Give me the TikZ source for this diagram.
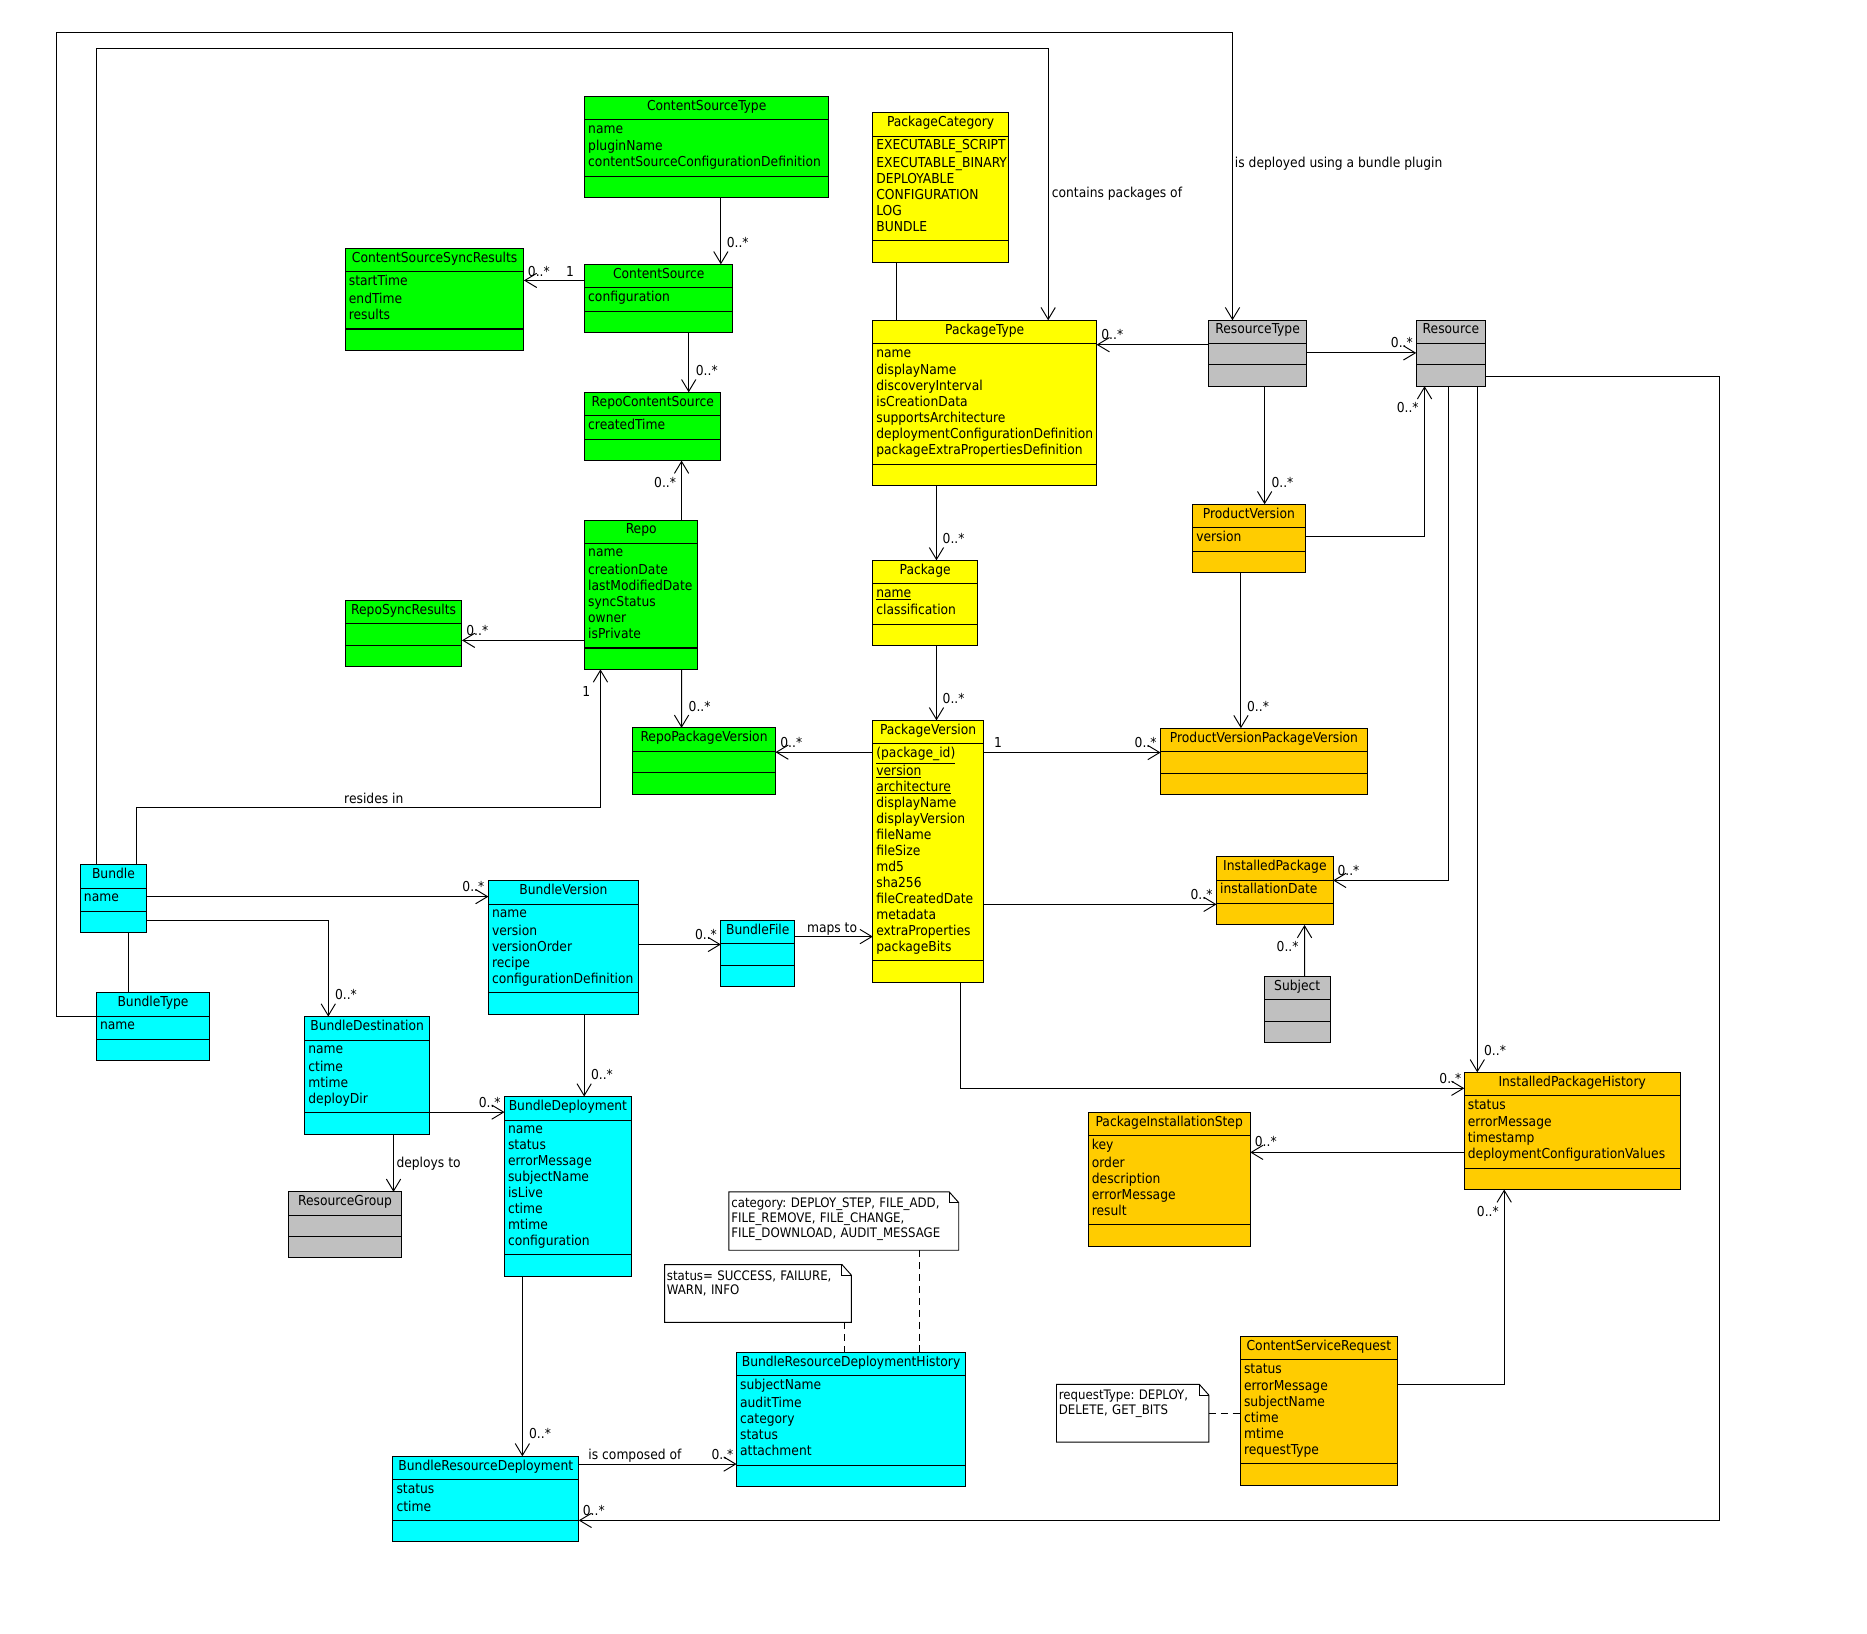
\documentclass[tikz,border=0pt]{standalone}
\usepackage{fontspec}
\setmainfont{DejaVu Sans Condensed}
\usetikzlibrary{shapes.multipart,arrows.meta}
\definecolor{grn}{HTML}{00FF00}
\definecolor{ylw}{HTML}{FFFF00}
\definecolor{org}{HTML}{FFCC00}
\definecolor{cyn}{HTML}{00FFFF}
\definecolor{gry}{HTML}{C0C0C0}
\newcommand{\cf}{\fontsize{11.5}{13.4}\selectfont\hyphenpenalty=10000\exhyphenpenalty=10000}
\newcommand{\nf}{\fontsize{11}{12.5}\selectfont\hyphenpenalty=10000\frenchspacing}
\newcommand{\cstrut}{\rule[-5.1pt]{0pt}{13.4pt}}
\newcommand{\ttl}[1]{\makebox[\hsize]{\cstrut#1\cstrut}}
\newcommand{\atr}[1]{\raggedright\cstrut#1\cstrut}
\newcommand{\emp}{\rule{0pt}{12pt}}
\newcommand{\dogear}[1]{%
  \draw[link] (#1.north west) -- ([xshift=-8]#1.north east) -- ([yshift=-9]#1.north east) -- (#1.south east) -- (#1.south west) -- cycle;
  \draw[link] ([xshift=-8]#1.north east) |- ([yshift=-9]#1.north east);}
\tikzset{cls/.style={rectangle split,rectangle split parts=3,draw,line width=0.85pt,anchor=north west,
    inner xsep=3pt,inner ysep=2.55pt,outer sep=0pt,font=\cf,text width=#1pt},
  assoc/.style={line width=0.8pt,-{Straight Barb[length=10pt,width=12pt]}},
  link/.style={line width=0.8pt},
  dlink/.style={line width=0.8pt,dash pattern=on 6pt off 4pt},
  mult/.style={font=\cf,inner sep=0pt,anchor=base west},
  notebox/.style={anchor=north west,fill=white,inner sep=2pt,outer sep=0pt,font=\nf,align=left,text height=11pt}}
\begin{document}
\begin{tikzpicture}[x=1pt,y=-1pt]
  \useasboundingbox[fill=white] (0,0) rectangle (1568,1372);

  % content sources and repos
  \node[cls=199,fill=grn] (cst) at (491,81) {\ttl{ContentSourceType}\nodepart{two}\atr{name\\pluginName\\contentSourceConfigurationDefinition}\nodepart{three}\emp};
  \node[cls=144,fill=grn] (cssr) at (290,208.5) {\ttl{ContentSourceSyncResults}\nodepart{two}\atr{startTime\\endTime\\results}\nodepart{three}\emp};
  \node[cls=118.5,fill=grn] (cs) at (491,222) {\ttl{ContentSource}\nodepart{two}\atr{configuration}\nodepart{three}\emp};
  \node[cls=108.5,fill=grn] (rcs) at (491,329.5) {\ttl{RepoContentSource}\nodepart{two}\atr{createdTime}\nodepart{three}\emp};
  \node[cls=89,fill=grn] (repo) at (491,437) {\ttl{Repo}\nodepart{two}\atr{name\\creationDate\\lastModifiedDate\\syncStatus\\owner\\isPrivate}\nodepart{three}\emp};
  \node[cls=92,fill=grn] (rsr) at (290,504) {\ttl{RepoSyncResults}\nodepart{two}\emp\nodepart{three}\emp};
  \node[cls=114,fill=grn] (rpv) at (531.3,611.3) {\ttl{RepoPackageVersion}\nodepart{two}\emp\nodepart{three}\emp};

  % packages
  \node[cls=108,fill=ylw] (pc) at (733,94.5) {\ttl{PackageCategory}\nodepart{two}\atr{EXECUTABLE\_SCRIPT\\EXECUTABLE\_BINARY\\DEPLOYABLE\\CONFIGURATION\\LOG\\BUNDLE}\nodepart{three}\emp};
  \node[cls=182,fill=ylw] (pt) at (733,269) {\ttl{PackageType}\nodepart{two}\atr{name\\displayName\\discoveryInterval\\isCreationData\\supportsArchitecture\\deploymentConfigurationDefinition\\packageExtraPropertiesDefinition}\nodepart{three}\emp};
  \node[cls=82,fill=ylw] (pkg) at (733,470.6) {\ttl{Package}\nodepart{two}\atr{\underline{name}\\classification}\nodepart{three}\emp};
  \node[cls=87,fill=ylw] (pv) at (733,605) {\ttl{PackageVersion}\nodepart{two}\atr{\underline{(package\_id)}\\\underline{version}\\\underline{architecture}\\displayName\\displayVersion\\fileName\\fileSize\\md5\\sha256\\fileCreatedDate\\metadata\\extraProperties\\packageBits}\nodepart{three}\emp};

  % resources and products
  \node[cls=76,fill=gry] (rt) at (1015.2,269) {\ttl{ResourceType}\nodepart{two}\emp\nodepart{three}\emp};
  \node[cls=52.3,fill=gry] (res) at (1189.4,269) {\ttl{Resource}\nodepart{two}\emp\nodepart{three}\emp};
  \node[cls=88.4,fill=org] (prv) at (1001.7,423.5) {\ttl{ProductVersion}\nodepart{two}\atr{version}\nodepart{three}\emp};
  \node[cls=167.7,fill=org] (pvpv) at (974.7,611.6) {\ttl{ProductVersionPackageVersion}\nodepart{two}\emp\nodepart{three}\emp};
  \node[cls=92,fill=org] (ip) at (1021.7,719.3) {\ttl{InstalledPackage}\nodepart{two}\atr{installationDate}\nodepart{three}\emp};
  \node[cls=49,fill=gry] (subj) at (1062,820) {\ttl{Subject}\nodepart{two}\emp\nodepart{three}\emp};
  \node[cls=175.2,fill=org] (iph) at (1229.8,900.6) {\ttl{InstalledPackageHistory}\nodepart{two}\atr{status\\errorMessage\\timestamp\\deploymentConfigurationValues}\nodepart{three}\emp};
  \node[cls=130,fill=org] (pis) at (914,934) {\ttl{PackageInstallationStep}\nodepart{two}\atr{key\\order\\description\\errorMessage\\result}\nodepart{three}\emp};
  \node[cls=125.7,fill=org] (csr) at (1041.8,1122.3) {\ttl{ContentServiceRequest}\nodepart{two}\atr{status\\errorMessage\\subjectName\\ctime\\mtime\\requestType}\nodepart{three}\emp};

  % bundles
  \node[cls=49.6,fill=cyn] (bundle) at (67.5,726) {\ttl{Bundle}\nodepart{two}\atr{name}\nodepart{three}\emp};
  \node[cls=89,fill=cyn] (bt) at (81,833.7) {\ttl{BundleType}\nodepart{two}\atr{name}\nodepart{three}\emp};
  \node[cls=120,fill=cyn] (bv) at (410.2,739.5) {\ttl{BundleVersion}\nodepart{two}\atr{name\\version\\versionOrder\\recipe\\configurationDefinition}\nodepart{three}\emp};
  \node[cls=56,fill=cyn] (bf) at (605.4,773) {\ttl{BundleFile}\nodepart{two}\emp\nodepart{three}\emp};
  \node[cls=98.7,fill=cyn] (bd) at (256,853.8) {\ttl{BundleDestination}\nodepart{two}\atr{name\\ctime\\mtime\\deployDir}\nodepart{three}\emp};
  \node[cls=100.5,fill=cyn] (bdep) at (423.7,920.9) {\ttl{BundleDeployment}\nodepart{two}\atr{name\\status\\errorMessage\\subjectName\\isLive\\ctime\\mtime\\configuration}\nodepart{three}\emp};
  \node[cls=88.3,fill=gry] (rg) at (242.6,1001) {\ttl{ResourceGroup}\nodepart{two}\emp\nodepart{three}\emp};
  \node[cls=186.3,fill=cyn] (brdh) at (618.6,1135.8) {\ttl{BundleResourceDeploymentHistory}\nodepart{two}\atr{subjectName\\auditTime\\category\\status\\attachment}\nodepart{three}\emp};
  \node[cls=150,fill=cyn] (brd) at (330,1223.1) {\ttl{BundleResourceDeployment}\nodepart{two}\atr{status\\ctime}\nodepart{three}\emp};

  % notes
  \node[notebox,text width=189pt,text depth=34pt] (n1) at (612.2,1001) {category: DEPLOY\_STEP, FILE\_ADD,\\FILE\_REMOVE, FILE\_CHANGE,\\FILE\_DOWNLOAD, AUDIT\_MESSAGE};
  \node[notebox,text width=153pt,text depth=33.5pt] (n2) at (558.1,1062) {status= SUCCESS, FAILURE,\\WARN, INFO};
  \node[notebox,text width=124pt,text depth=33.5pt] (n3) at (887.3,1162.7) {requestType: DEPLOY,\\DELETE, GET\_BITS};
  \dogear{n1}
  \dogear{n2}
  \dogear{n3}

  % green links
  \draw[assoc] ([xshift=114.4]cst.south west) -- ([xshift=114.4]cs.north west) node[mult,xshift=4.6,yshift=13.8]{0..*};
  \draw[assoc] ([yshift=-13.5]cs.north west) -- ([yshift=-27]cssr.north east) node[mult,xshift=3,yshift=3.3]{0..*} node[mult,pos=0,xshift=-16,yshift=3.3]{1};
  \draw[assoc] ([xshift=87.4]cs.south west) -- ([xshift=87.4]rcs.north west) node[mult,xshift=5.6,yshift=14.3]{0..*};
  \draw[assoc] ([xshift=81.4]repo.north west) -- ([xshift=81.4]rcs.south west) node[mult,xshift=-23.4,yshift=-22.7]{0..*};
  \draw[assoc] ([yshift=-100.8]repo.north west) -- ([yshift=-33.8]rsr.north east) node[mult,xshift=3.3,yshift=4.2]{0..*};
  \draw[assoc] ([xshift=81.4]repo.south west) -- ([xshift=41.1]rpv.north west) node[mult,xshift=5.6,yshift=14.1]{0..*};
  \draw[assoc] ([yshift=-26.7]pv.north west) -- ([yshift=-20.4]rpv.north east) node[mult,xshift=3.7,yshift=3.5]{0..*};

  % bundle links
  \draw[assoc] ([xshift=47.1]bundle.north west) -- ++(0,-47.5) node[mult,xshift=174.1,yshift=3.6]{resides in} -| ([xshift=13.3]repo.south west) node[mult,xshift=-15.5,yshift=-22.7]{1};
  \draw[assoc] ([yshift=-27]bundle.north east) -- ([yshift=-13.5]bv.north west) node[mult,xshift=-22.2,yshift=4.2]{0..*};
  \draw[assoc] ([yshift=-47]bundle.north east) -| ([xshift=19.7]bd.north west) node[mult,xshift=5.3,yshift=14]{0..*};
  \draw[link] ([xshift=40.5]bundle.south west) -- ([xshift=27]bt.north west);
  \draw[assoc] ([yshift=-20.1]bt.north west) -- ++(-33.5,0) -- ++(0,-826.5) -| ([xshift=19.9]rt.north west) node[mult,xshift=1.7,yshift=128]{is deployed using a bundle plugin};
  \draw[assoc] ([xshift=13.5]bundle.north west) -- ++(0,-685.5) -| ([xshift=147.3]pt.north west) node[mult,xshift=2.7,yshift=102.8]{contains packages of};

  % package links
  \draw[link] ([xshift=20]pc.south west) -- ([xshift=20]pt.north west);
  \draw[assoc] ([yshift=-20.5]rt.north west) -- ([yshift=-20.5]pt.north east) node[mult,xshift=3.6,yshift=4.3]{0..*};
  \draw[assoc] ([yshift=-27.4]rt.north east) -- ([yshift=-27.4]res.north west) node[mult,xshift=-21.6,yshift=4.2]{0..*};
  \draw[assoc] ([xshift=46.9]rt.south west) -- ([xshift=60.4]prv.north west) node[mult,xshift=5.4,yshift=14.3]{0..*};
  \draw[assoc] ([yshift=-27.1]prv.north east) -| ([xshift=7]res.south west) node[mult,xshift=-23.7,yshift=-22.1]{0..*};
  \draw[assoc] ([xshift=53.5]pt.south west) -- ([xshift=53.5]pkg.north west) node[mult,xshift=4.8,yshift=14.4]{0..*};
  \draw[assoc] ([xshift=53.5]pkg.south west) -- ([xshift=53.5]pv.north west) node[mult,xshift=4.8,yshift=14.4]{0..*};
  \draw[assoc] ([xshift=40.5]prv.south west) -- ([xshift=67.5]pvpv.north west) node[mult,xshift=4.8,yshift=14.1]{0..*};
  \draw[assoc] ([yshift=-27]pv.north east) -- ([yshift=-20.4]pvpv.north west) node[mult,xshift=-22.1,yshift=3.8]{0..*} node[mult,pos=0,xshift=8.5,yshift=3.8]{1};
  \draw[assoc] ([yshift=-154.5]pv.north east) -- ([yshift=-40.2]ip.north west) node[mult,xshift=-22.2,yshift=4.3]{0..*};
  \draw[assoc] ([xshift=27]res.south west) |- ([yshift=-20.1]ip.north east) node[mult,xshift=3.2,yshift=4.2]{0..*};
  \draw[assoc] ([xshift=33.6]subj.north west) -- ([xshift=73.9]ip.south west) node[mult,xshift=-23.8,yshift=-22.4]{0..*};
  \draw[assoc] ([xshift=51.3]res.south west) -- ([xshift=10.9]iph.north west) node[mult,xshift=5.3,yshift=14.4]{0..*};
  \draw[assoc] ([xshift=73.4]pv.south west) |- ([yshift=-13.4]iph.north west) node[mult,xshift=-21.3,yshift=4.2]{0..*};
  \draw[assoc] ([yshift=-47.2]res.north east) -- ++(196.8,0) |- ([yshift=-53.8]brd.north east) node[mult,xshift=3.1,yshift=4.3]{0..*};
  \draw[assoc] ([yshift=-67.2]iph.north west) -- ([yshift=-33.8]pis.north east) node[mult,xshift=3.5,yshift=4.6]{0..*};
  \draw[assoc] ([yshift=-40.4]csr.north east) -| ([xshift=33.5]iph.south west) node[mult,xshift=-23.3,yshift=-22.4]{0..*};

  % deployment links
  \draw[assoc] ([yshift=-53.7]bv.north east) -- ([yshift=-20.2]bf.north west) node[mult,xshift=-22.1,yshift=4]{0..*};
  \draw[assoc] ([yshift=-13.6]bf.north east) -- ([yshift=-181.6]pv.north west) node[mult,pos=0,xshift=10,yshift=3.6]{maps to};
  \draw[assoc] ([xshift=80.4]bv.south west) -- ([xshift=66.9]bdep.north west) node[mult,xshift=5.4,yshift=14.7]{0..*};
  \draw[assoc] ([yshift=-80.2]bd.north east) -- ([yshift=-13.1]bdep.north west) node[mult,xshift=-22,yshift=4.2]{0..*};
  \draw[assoc] ([xshift=74.5]bd.south west) -- ([xshift=87.9]rg.north west) node[mult,xshift=2.1,yshift=20.8]{deploys to};
  \draw[assoc] ([xshift=15]bdep.south west) -- ([xshift=108.7]brd.north west) node[mult,xshift=5.3,yshift=14.9]{0..*};
  \draw[assoc] ([yshift=-6.5]brd.north east) -- ([yshift=-93.8]brdh.north west) node[mult,xshift=-21.4,yshift=3.9]{0..*} node[mult,pos=0,xshift=7.8,yshift=3.9]{is composed of};

  % note links
  \draw[dlink] ([xshift=160.1]n1.south west) -- ([xshift=153.7]brdh.north west);
  \draw[dlink] ([xshift=151]n2.south west) -- ([xshift=90.5]brdh.north west);
  \draw[dlink] ([yshift=-24.1]n3.north east) -- ([yshift=-64.5]csr.north west);
\end{tikzpicture}
\end{document}
